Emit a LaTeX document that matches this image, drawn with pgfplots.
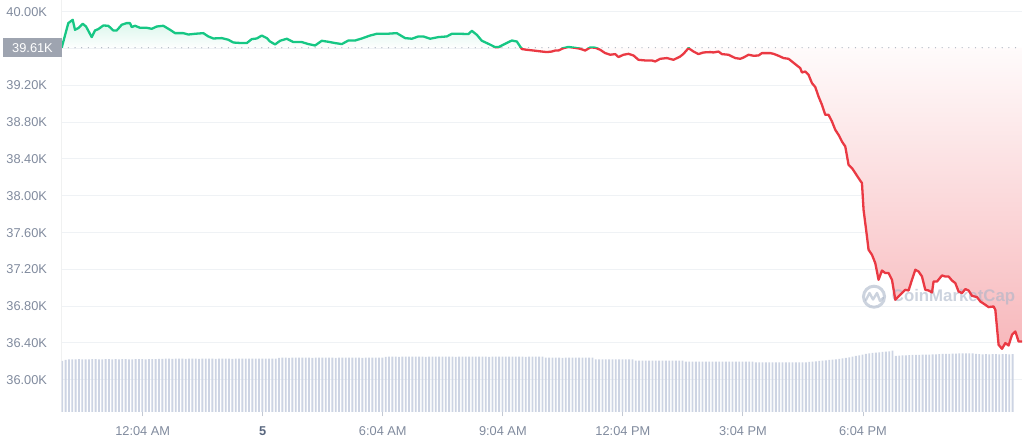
\documentclass[border=0pt]{standalone}
\usepackage{fontspec}
\setmainfont{Liberation Sans}
\usepackage{pgfplots}
\pgfplotsset{compat=1.18}
\usepackage{pgfplotstable}

\definecolor{cmcgreen}{HTML}{16C784}
\definecolor{cmcred}{HTML}{EA3943}
\definecolor{gridc}{HTML}{EFF2F5}
\definecolor{labc}{HTML}{808A9D}
\definecolor{labdark}{HTML}{58667E}
\definecolor{boxc}{HTML}{9EA4B0}
\definecolor{dotc}{HTML}{AEB5C1}
\definecolor{barc}{HTML}{CDD4E3}
\definecolor{tickc}{HTML}{C3C9D3}
\definecolor{wm}{HTML}{AAB5C8}

\pgfplotstableread{
h p
0 39.610
0.165 39.877
0.275 39.913
0.333 39.804
0.415 39.823
0.525 39.870
0.608 39.840
0.75 39.725
0.833 39.797
0.915 39.812
1.04 39.851
1.165 39.848
1.29 39.797
1.375 39.797
1.5 39.859
1.625 39.877
1.708 39.877
1.75 39.834
1.833 39.848
1.958 39.826
2.125 39.826
2.25 39.815
2.375 39.840
2.54 39.848
2.708 39.804
2.833 39.768
3.04 39.768
3.165 39.753
3.333 39.761
3.54 39.768
3.665 39.732
3.79 39.710
4.0 39.714
4.165 39.696
4.29 39.666
4.5 39.660
4.625 39.660
4.75 39.703
4.875 39.710
5.0 39.742
5.125 39.714
5.208 39.677
5.333 39.645
5.458 39.685
5.625 39.707
5.79 39.671
6.0 39.671
6.165 39.649
6.333 39.634
6.5 39.685
6.665 39.674
6.833 39.660
7.0 39.649
7.165 39.688
7.333 39.688
7.5 39.710
7.708 39.742
7.875 39.761
8.125 39.761
8.375 39.768
8.583 39.714
8.75 39.707
8.915 39.732
9.04 39.732
9.208 39.707
9.415 39.725
9.625 39.732
9.75 39.761
9.958 39.761
10.165 39.758
10.25 39.793
10.375 39.750
10.5 39.685
10.665 39.652
10.833 39.616
10.915 39.616
11.083 39.652
11.25 39.688
11.375 39.677
11.5 39.595
11.625 39.587
11.79 39.579
12.0 39.568
12.125 39.562
12.25 39.568
12.333 39.579
12.415 39.579
12.54 39.605
12.665 39.618
12.833 39.608
12.958 39.598
13.083 39.579
13.208 39.612
13.333 39.610
13.458 39.587
13.583 39.551
13.708 39.533
13.833 39.540
13.915 39.508
14.04 39.533
14.165 39.543
14.29 39.525
14.415 39.478
14.583 39.471
14.75 39.471
14.833 39.460
14.958 39.489
15.125 39.497
15.29 39.478
15.458 39.514
15.54 39.543
15.665 39.605
15.79 39.568
15.915 39.540
16.04 39.558
16.208 39.562
16.29 39.558
16.415 39.568
16.5 39.540
16.665 39.533
16.833 39.497
16.958 39.489
17.04 39.503
17.165 39.533
17.29 39.522
17.415 39.525
17.5 39.551
17.708 39.551
17.79 39.543
17.915 39.522
18.04 39.497
18.165 39.489
18.25 39.460
18.375 39.416
18.458 39.388
18.5 39.340
18.583 39.351
18.665 39.315
18.75 39.225
18.833 39.182
18.915 39.079
19.0 38.989
19.083 38.880
19.165 38.880
19.25 38.808
19.333 38.717
19.415 38.663
19.5 38.590
19.583 38.536
19.665 38.337
19.75 38.301
19.833 38.247
19.915 38.192
20.0 38.138
20.04 37.848
20.125 37.558
20.165 37.413
20.25 37.359
20.333 37.268
20.415 37.087
20.5 37.188
20.583 37.160
20.665 37.160
20.75 37.087
20.833 36.870
20.915 36.905
21.0 36.942
21.083 36.978
21.165 36.971
21.25 37.087
21.333 37.196
21.415 37.177
21.5 37.123
21.583 36.978
21.665 36.971
21.75 36.949
21.79 37.068
21.875 37.068
22.0 37.134
22.083 37.123
22.165 37.123
22.25 37.079
22.333 37.051
22.415 36.960
22.5 36.942
22.583 36.986
22.665 36.971
22.75 36.913
22.875 36.899
22.958 36.851
23.083 36.815
23.165 36.790
23.29 36.797
23.333 36.761
23.415 36.380
23.5 36.337
23.583 36.399
23.665 36.373
23.75 36.489
23.833 36.525
23.915 36.416
24.0 36.416
}\price

\pgfplotstableread{
v
51.0
52.2
52.5
52.6
52.6
52.8
52.6
52.7
52.7
52.8
52.8
52.7
52.7
52.8
52.8
52.7
52.8
52.7
52.8
52.8
52.7
52.7
52.8
52.8
52.8
52.7
52.8
52.8
52.8
53.2
53.2
53.3
53.3
53.2
53.3
53.3
53.3
53.2
53.3
53.3
53.3
53.2
53.3
53.3
53.3
53.3
53.2
53.3
53.3
53.3
53.3
53.2
53.3
53.3
53.3
53.3
53.3
53.3
53.3
53.3
53.3
53.3
53.3
53.3
53.3
54.2
54.3
54.3
54.2
54.3
54.3
54.3
54.3
54.3
54.3
54.2
54.3
54.3
54.3
54.3
54.3
54.3
54.2
54.3
54.3
54.3
54.3
54.3
54.3
54.3
54.2
54.3
54.3
54.3
54.3
54.3
54.3
55.2
55.3
55.3
55.3
55.2
55.3
55.3
55.3
55.3
55.3
55.3
55.3
55.2
55.3
55.3
55.3
55.3
55.3
55.3
55.3
55.3
55.2
55.3
55.3
55.3
55.3
55.3
55.3
55.3
55.3
55.3
55.2
55.3
55.3
55.3
55.3
55.3
55.3
55.3
55.3
55.3
55.3
55.2
55.3
55.3
55.3
55.3
55.3
54.3
54.3
54.3
54.3
54.3
54.2
54.3
54.3
54.3
54.3
54.3
54.3
54.3
54.3
54.3
52.7
52.7
52.7
52.7
52.7
52.7
52.7
52.7
52.7
52.7
52.7
52.7
51.3
51.3
51.3
51.3
51.3
51.3
51.3
51.3
51.3
51.3
51.3
51.3
51.3
51.3
51.3
50.3
50.3
50.3
50.3
50.3
50.3
50.3
50.3
50.3
50.3
50.3
50.3
50.3
50.3
50.3
50.3
50.3
50.3
50.3
50.3
50.3
49.7
49.7
49.7
49.7
49.7
49.7
49.7
49.7
49.7
49.7
49.7
49.7
49.7
49.7
49.7
49.7
50.0
50.3
50.6
51.0
51.3
51.6
52.0
52.3
52.7
53.0
53.5
54.0
54.5
55.3
56.0
56.7
57.3
58.0
58.5
59.0
59.3
59.6
60.0
60.3
60.7
61.3
56.0
56.3
56.5
56.7
56.8
57.0
57.0
57.2
57.3
57.3
57.3
57.5
57.7
57.8
58.0
58.0
58.2
58.3
58.3
58.5
58.5
58.7
58.7
58.5
58.0
57.8
57.7
57.8
57.7
57.8
57.8
57.7
57.8
57.8
57.7
57.8
}\volume

\begin{document}
\begin{tikzpicture}
\useasboundingbox (0,0) rectangle (1024pt,441pt);

% main axis: grid, labels, fills, baseline
\begin{axis}[
  at={(61.7pt,29pt)}, anchor=south west, scale only axis,
  width=960.3pt, height=412pt,
  xmin=0, xmax=24, ymin=35.65, ymax=40.1283,
  axis line style={draw=none},
  ymajorgrids, major grid style={gridc, line width=1pt},
  xtick={2.025,5.025,8.025,11.025,14.025,17.025,20.025},
  xticklabels={12:04 AM,{\color{labdark}\bfseries 5},6:04 AM,9:04 AM,12:04 PM,3:04 PM,6:04 PM},
  ytick={36,36.4,36.8,37.2,37.6,38,38.4,38.8,39.2,39.6,40},
  yticklabels={36.00K,36.40K,36.80K,37.20K,37.60K,38.00K,38.40K,38.80K,39.20K,{},40.00K},
  xtick pos=bottom, ytick pos=left,
  tick align=outside, major tick length=4.5pt,
  xtick style={draw=tickc, line width=0.9pt},
  ytick style={draw=none},
  /pgf/number format/assume math mode=true,
  ticklabel style={font=\fontsize{12.8pt}{15pt}\selectfont, text=labc},
  xticklabel style={anchor=north, inner sep=0pt, yshift=-10pt},
  yticklabel style={anchor=east, inner sep=0pt, xshift=-10pt},
]
\addplot[draw=none, top color=cmcgreen!17, bottom color=white,
  skip coords between index={80}{1000}]
  table[x=h,y=p]{\price} -- (axis cs:11.5,39.61) -- (axis cs:0,39.61) -- cycle;
\addplot[draw=none, top color=cmcred!2, bottom color=cmcred!36,
  skip coords between index={0}{79}]
  table[x=h,y=p]{\price} -- (axis cs:24,39.61) -- (axis cs:11.5,39.61) -- cycle;
\addplot[dotc, line width=1.3pt, line cap=round, dash pattern=on 0pt off 6.67pt]
  coordinates {(0,39.61) (24,39.61)};
\end{axis}

% left axis line
\draw[gridc!80!gray!40, line width=1pt] (61.7pt,29pt) -- (61.7pt,441pt);

% watermark
\draw[wm, opacity=0.6, line width=3pt] (874pt,144.3pt) circle (10.5pt);
\draw[wm, opacity=0.6, line width=2.4pt, line join=round, line cap=round]
  (866pt,141pt) -- (869.5pt,148pt) -- (873pt,141.5pt) -- (877pt,148pt) -- (880pt,140pt) -- (883pt,143pt);
\node[wm, text opacity=0.6, anchor=west, inner sep=0pt,
  font=\fontsize{16.8pt}{18pt}\selectfont\bfseries] at (891.7pt,144.3pt) {CoinMarketCap};

% volume bars
\begin{axis}[
  at={(61.7pt,29pt)}, anchor=south west, scale only axis,
  width=960.3pt, height=412pt,
  xmin=-0.18, xmax=287.82, ymin=0, ymax=412, hide axis]
\addplot[ybar, bar width=0.55, fill=barc, draw=none] table[x expr=\coordindex, y=v]{\volume};
\end{axis}

% red part of the price line
\begin{axis}[
  at={(61.7pt,29pt)}, anchor=south west, scale only axis,
  width=960.3pt, height=364.32pt,
  xmin=0, xmax=24, ymin=35.65, ymax=39.61, hide axis]
\addplot[cmcred, line width=2.3pt, line join=round] table[x=h,y=p]{\price};
\end{axis}

% green part of the price line
\begin{axis}[
  at={(61.7pt,393.32pt)}, anchor=south west, scale only axis,
  width=960.3pt, height=47.68pt,
  xmin=0, xmax=24, ymin=39.61, ymax=40.1283, hide axis]
\addplot[cmcgreen, line width=2.3pt, line join=round] table[x=h,y=p]{\price};
\end{axis}

% current price box
\fill[boxc] (3.3pt,383.7pt) rectangle (61.7pt,402.7pt);
\node[text=white, inner sep=0pt, font=\fontsize{12.8pt}{15pt}\selectfont] at (32.5pt,393.2pt) {39.61K};
\end{tikzpicture}
\end{document}
